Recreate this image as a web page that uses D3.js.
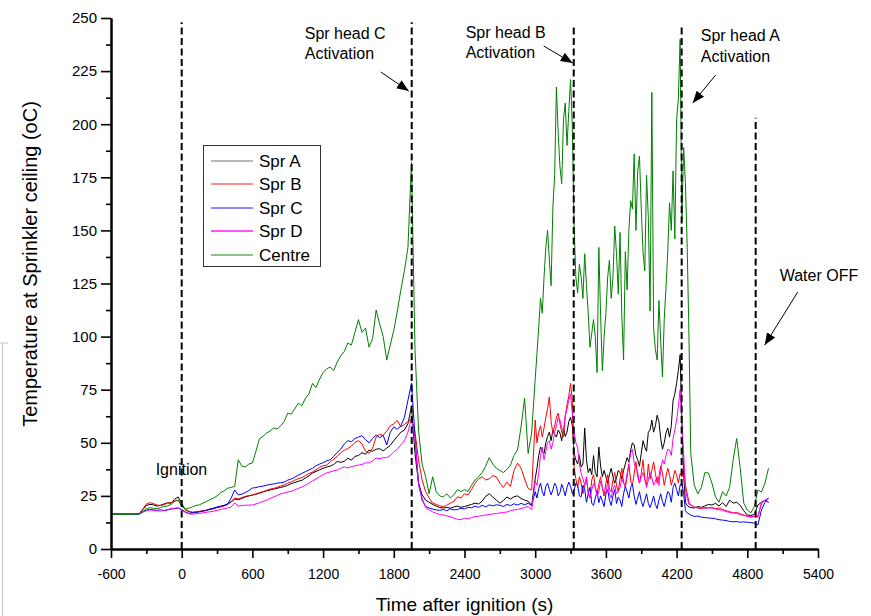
<!DOCTYPE html>
<html><head><meta charset="utf-8">
<script src="https://cdn.jsdelivr.net/npm/d3@7"></script>
<style>
html,body{margin:0;padding:0;background:#fff;}
svg{display:block;font-family:"Liberation Sans",Arial,sans-serif;}
</style></head>
<body><svg id="chart" width="871" height="616"></svg>
<script>
// sampling grid (s after ignition): 30 s, 15 s in the sprinkler-activation window
const times = [...d3.range(-600, 3000, 30), ...d3.range(3000, 4320, 15), ...d3.range(4320, 4981, 30)];

const seriesNames = ["Spr A","Spr B","Spr C","Spr D","Centre"];
const seriesColors = ["#000000","#ff0000","#0000ff","#ff00ff","#008000"];

const sprA = [16.5,16.5,16.5,16.5,16.5,16.5,16.5,16.5,16.6,18.5,
20.5,21.0,20.8,20.2,20.6,21.2,21.8,21.5,23.5,24.5,
21.5,18.5,17.6,17.2,17.4,17.6,17.9,18.2,18.6,19.0,
19.5,19.8,20.3,21.0,22.2,23.5,23.2,23.8,24.5,25.0,
25.4,25.8,26.2,26.9,27.3,27.8,28.2,28.6,29.0,29.4,
30.0,30.8,31.3,31.9,32.3,33.5,34.4,35.8,36.5,37.3,
38.0,38.6,39.0,39.8,41.2,40.8,41.3,42.8,41.8,43.6,
44.0,45.4,44.6,46.6,46.0,47.0,47.2,46.2,47.5,48.8,
51.0,53.0,55.0,56.0,59.0,67.0,45.0,31.0,25.5,23.0,
22.0,21.0,20.2,19.5,19.3,19.6,19.2,19.8,20.2,19.6,
20.0,20.5,21.0,21.6,21.2,22.5,24.8,26.0,24.5,23.0,
21.6,22.8,24.5,23.5,24.6,25.0,23.8,23.0,22.5,20.5,
33,38,44,48,46,45,50,53,55,51,
56,54,52.7,56,54.6,51,57,53,55,60,
62,58,45,42,40,44,38.6,40,57,42,
36,38,35,44,36,34,48,39,34,37,
34,31,35,38,34,31,33.5,37,36,33,
37,40,43,41,46.6,50,49,44,42,39,
45,51,48,46,55,56,60.7,55,58,63,
60,52,47,50,54.6,57,52.7,58,70,73,
78,84,91.5,60,35,22,20.5,19.8,
19.5,19.3,20.0,19.6,20.3,21.0,
20.7,21.5,20.3,21.8,20.0,23.0,21.6,22.0,20.5,18.0,
16.0,15.8,16.2,20.7,22.0,23.0,22.0];

const sprB = [16.5,16.5,16.5,16.5,16.5,16.5,16.5,16.5,16.6,18.8,
21.2,21.8,21.4,20.7,20.5,20.9,21.6,21.9,22.6,23.0,
21.0,18.6,17.8,17.3,17.5,17.7,18.0,18.3,18.8,19.2,
19.6,20.0,20.4,21.2,22.4,24.0,23.6,24.2,24.8,25.1,
25.4,25.9,26.6,27.0,27.6,28.2,28.5,29.1,29.6,30.2,
31.0,31.6,32.4,33.2,33.5,34.6,35.5,36.2,37.3,38.5,
39.2,39.5,41.0,42.3,43.6,45.4,46.5,47.3,48.4,50.2,
51.0,49.5,46.0,45.0,47.5,52.7,54.0,53.5,55.5,58.0,
59.0,60.5,57.5,58.6,60.0,61.0,55.0,42.0,32.5,27.0,
24.0,21.6,21.0,20.3,20.0,20.6,21.6,22.4,24.6,24.0,
26.0,25.5,28.0,31.0,33.0,34.0,32.5,33.0,34.5,34.0,
31.0,29.0,31.5,29.5,37.0,40.4,38.0,33.0,28.5,27.8,
60.7,50,55,58,52.7,57,62,66,71.6,60,
54.6,58,62,64,59,55,52.7,62,68,72,
78,70,38.6,33,29,34,31,26,30,33,
27,24,32.5,35,29,26,30.5,34,29,25,
31,35,28,27,32.5,36,30,27,33,38,
31.5,29,34,40,32,30,35.5,41,34,31,
35.6,42,33,30,40,33,37,41,35.6,31,
34,39,36,30,34,38,35,30,33,37,
35,31,35.6,34,38.6,30,26,22,
20.7,19.8,19.3,19.0,19.5,19.3,
19.5,19.0,19.3,18.6,18.0,17.6,17.0,17.2,16.5,16.0,
15.3,15.0,15.3,15.0,21.6,23.0,22.0];

const sprC = [16.5,16.5,16.5,16.5,16.5,16.5,16.5,16.5,16.5,17.5,
18.3,18.6,18.4,18.2,18.5,18.0,18.4,18.8,19.0,19.3,
18.6,17.5,16.8,16.9,17.2,17.5,17.8,18.2,18.8,19.2,
19.8,20.2,20.6,21.3,24.0,27.8,25.5,25.8,26.6,27.5,
28.7,28.9,29.4,29.6,30.0,30.4,30.6,31.0,31.2,31.5,
32.4,33.0,33.8,34.8,35.6,36.4,37.2,38.0,39.2,40.0,
40.6,41.5,42.0,43.6,45.5,47.0,49.5,51.0,50.5,52.0,
52.7,53.3,51.5,50.0,52.0,53.7,52.4,53.5,49.0,55.0,
57.5,56.3,58.0,62.0,70.0,78.0,53.0,31.0,23.0,20.0,
19.3,18.8,18.4,18.2,18.6,18.0,18.9,18.4,18.6,19.2,
18.8,19.6,19.4,20.2,19.6,20.6,19.8,20.8,20.3,20.8,
20.6,20.0,21.0,20.4,21.3,20.7,21.5,20.8,21.6,20.4,
27,24,28.5,31,27,25,29.5,31,28,25.5,
27.8,31,29.5,25,26.5,30.5,28,25,29,31.5,
29.5,26,27.5,31,30,25,24.6,30,28,22,
26,29,21.6,20.5,24,27,21.8,25,22.5,20,
26,28,23,20.5,25,28,21.4,24.5,23,20,
26,29.5,27,24,29,30.5,25,21,24,27,
22.5,20,23,26,21.5,19.5,22,25,21,19,
23,26,22.4,20,23.6,27,26,22,29,31,
28,25,30,31,26,18,17,16.5,
16.0,15.3,15.5,15.0,14.8,14.6,
14.5,14.2,13.8,13.6,13.4,13.0,12.8,12.9,12.6,12.8,
12.6,12.4,12.2,11.3,18.4,22.0,24.0];

const sprD = [16.5,16.5,16.5,16.5,16.5,16.5,16.5,16.5,16.5,17.3,
18.0,18.4,18.2,18.0,17.8,18.2,18.6,18.9,19.2,19.4,
18.3,17.2,16.6,16.4,16.6,16.8,17.0,17.3,17.5,17.8,
18.2,18.6,19.0,19.3,19.8,21.7,20.2,20.5,20.6,20.7,
20.7,21.2,21.8,22.4,23.0,23.8,24.5,25.2,25.9,26.4,
26.8,27.2,27.8,28.5,29.2,30.0,31.0,32.0,33.0,34.0,
35.0,35.8,36.3,36.8,37.2,38.0,38.6,38.2,38.8,39.2,
39.5,39.8,40.6,40.5,41.5,42.8,42.5,43.0,43.0,44.0,
45.7,47.0,49.0,51.0,55.0,61.6,52.0,30.0,24.0,19.5,
18.4,17.5,16.8,16.2,16.0,15.6,15.2,14.5,14.0,13.8,
14.5,14.2,14.8,15.3,15.4,15.8,16.0,16.2,16.5,16.7,
17.0,17.2,17.4,18.0,18.4,18.6,19.0,19.5,20.0,18.5,
32,30,36,44,48,42,46,50,51,47,
50,55,58,62,60.7,57,56,63,66,70,
73,64,55,50,48,40,35.6,33,30,34,
26,24,28,31,29,25,27,32,29,25,
27,31,26,24,28,30,26,27,29,33,
31,30,35.6,40,45,47,40.4,38,36,31,
34,36,33,29,32.5,36,33.5,30,32,34,
30,37,42,40,44,47,46.6,44,52,56,
60.7,67,75,58,45,28,24,21,
20.7,19.8,19.3,19.5,19.2,19.4,
19.3,18.8,18.5,18.2,17.6,17.2,17.0,16.8,16.2,15.8,
15.5,15.3,15.3,15.5,21.6,23.0,24.0];

const centre = [16.3,16.3,16.3,16.3,16.3,16.3,16.3,16.3,16.4,17.5,
19.0,19.4,19.2,19.0,19.5,20.0,20.3,21.0,22.4,23.0,
20.0,18.8,19.2,19.8,20.5,20.8,21.6,22.4,23.2,24.0,
25.0,26.5,27.4,28.6,29.0,29.5,42.0,39.0,38.6,40.0,
40.5,46.0,52.0,53.0,54.6,55.5,57.0,56.5,58.0,60.0,
64.0,63.5,66.0,68.7,67.5,71.0,73.0,78.0,76.0,80.0,
83.0,84.8,85.7,84.0,88.0,91.0,93.0,97.0,96.0,102.0,
108.0,102.0,104.0,95.0,99.0,112.5,106.0,100.0,89.0,96.0,
103.0,112.0,122.0,131.0,142.0,182.0,94.0,56.0,40.0,34.0,
26.0,34.0,27.0,25.0,24.5,26.0,24.0,25.5,28.0,27.0,
28.0,27.0,30.0,32.5,34.0,36.0,39.0,43.0,40.0,38.0,
37.0,36.0,37.5,39.5,44.0,46.6,57.5,71.0,45.0,54.6,
80,92,104.6,118,111,128,142,150,136,124,
161,176,217.5,196,180,172,202,210,190,206,
221,199,152,128,120.5,134,128,118,139,124,
111,95,101.6,108,100,83,142,110,84,100,
111,128,136,118,128,152,139,120,149,110,
89,140,122,150,164,160,186,150,178,185,
160,140,131,176,156,112,215,104,94,89,
117,98,81,108,123,140,163,150,178,146,
202,212,240,155,189,172,142,100,
45.0,30.0,26.0,29.0,36.0,35.8,
31.0,24.6,22.0,27.0,25.0,29.0,42.0,52.0,38.0,21.6,
18.4,17.0,20.0,27.8,26.8,31.0,38.0];

const xMajorTicks = [-600,0,600,1200,1800,2400,3000,3600,4200,4800,5400];
const xMinorTicks = [-300,300,900,1500,2100,2700,3300,3900,4500,5100];
const yMajorTicks = [0,25,50,75,100,125,150,175,200,225,250];
const yMinorTicks = [12.5,37.5,62.5,87.5,112.5,137.5,162.5,187.5,212.5,237.5];

// event markers: time and top of dashed line (in °C units)
const markerTimes = [0, 1952, 3327, 4243, 4871];
const markerTops = [248, 248, 246.5, 247, 203];

// annotation texts (data coords of baseline-left)
const annTexts = [
  {lines:["Spr head C","Activation"], t:1044, v:[240.1,230.7]},
  {lines:["Spr head B","Activation"], t:2410, v:[240.6,231.2]},
  {lines:["Spr head A","Activation"], t:4405, v:[239.2,229.3]},
  {lines:["Water OFF"], t:5075, v:[126.2]},
  {lines:["Ignition"], t:-221, v:[34.8]}
];
const annArrows = [
  {t1:1689, v1:224.6, t2:1927, v2:215.6},
  {t1:3072, v1:236.8, t2:3318, v2:228.8},
  {t1:4532, v1:223.2, t2:4337, v2:210.0},
  {t1:5228, v1:121.0, t2:4948, v2:96.0}
];

const seriesData = [sprA, sprB, sprC, sprD, centre];

const svg = d3.select("#chart");
const x = d3.scaleLinear().domain([-600,5400]).range([111,818]);
const y = d3.scaleLinear().domain([0,250]).range([549,18]);

// left edge decoration (page remnant)
svg.append("path").attr("d","M0,343H8M2.5,343V616").attr("stroke","#c8c8c8").attr("fill","none").attr("stroke-width",1);

// series lines
const line = d3.line().x((d,i)=>x(times[i])).y(d=>y(d));
seriesData.forEach((arr,k)=>{
  svg.append("path").datum(arr).attr("d",line)
    .attr("fill","none").attr("stroke",seriesColors[k])
    .attr("stroke-width",1).attr("stroke-linejoin","round");
});

// dashed markers
markerTimes.forEach((t,i)=>{
  svg.append("line").attr("x1",x(t)).attr("x2",x(t))
    .attr("y1",y(0)).attr("y2",y(markerTops[i]))
    .attr("stroke","#000").attr("stroke-width",2).attr("stroke-dasharray","7,3.5");
});

// axes
const fmt = d => String(d);
const yAxisMinor = d3.axisLeft(y).tickValues(yMinorTicks).tickSize(5).tickFormat("").tickSizeOuter(0);
const yAxis = d3.axisLeft(y).tickValues(yMajorTicks).tickSize(10).tickPadding(4).tickSizeOuter(0).tickFormat(fmt);
const xAxisMinor = d3.axisBottom(x).tickValues(xMinorTicks).tickSize(5).tickFormat("").tickSizeOuter(0);
const xAxis = d3.axisBottom(x).tickValues(xMajorTicks).tickSize(9).tickPadding(11).tickSizeOuter(0).tickFormat(fmt);

const gy2 = svg.append("g").attr("transform","translate(111,0)").call(yAxisMinor);
const gy = svg.append("g").attr("transform","translate(111,0)").call(yAxis);
const gx2 = svg.append("g").attr("transform","translate(0,549)").call(xAxisMinor);
const gx = svg.append("g").attr("transform","translate(0,549)").call(xAxis);
[gy,gy2,gx,gx2].forEach(g=>{
  g.select(".domain").attr("stroke","#000").attr("stroke-width",2);
  g.selectAll(".tick line").attr("stroke","#000").attr("stroke-width",1.6);
});
gy.selectAll(".tick text").attr("font-size",15).attr("font-family","'Liberation Sans',Arial,sans-serif").attr("fill","#000");
gx.selectAll(".tick text").attr("font-size",14).attr("font-family","'Liberation Sans Narrow','Arial Narrow',sans-serif").attr("fill","#000");

// axis titles
svg.append("text").attr("x",464.5).attr("y",611).attr("text-anchor","middle")
  .attr("font-size",19).text("Time after ignition (s)");
svg.append("text").attr("transform","translate(37,264) rotate(-90)").attr("text-anchor","middle")
  .attr("font-size",20).text("Temperature at Sprinkler ceiling (oC)");

// annotations
annTexts.forEach(a=>{
  a.lines.forEach((s,i)=>{
    svg.append("text").attr("x",x(a.t)).attr("y",y(a.v[i]))
      .attr("font-size",16).attr("fill","#000").text(s);
  });
});
svg.append("defs").append("marker").attr("id","ah")
  .attr("viewBox","0 0 10 10").attr("refX",10).attr("refY",5)
  .attr("markerWidth",12).attr("markerHeight",12).attr("markerUnits","userSpaceOnUse")
  .attr("orient","auto").append("path").attr("d","M0,1L10,5L0,9Z").attr("fill","#000");
annArrows.forEach(a=>{
  svg.append("line").attr("x1",x(a.t1)).attr("y1",y(a.v1)).attr("x2",x(a.t2)).attr("y2",y(a.v2))
    .attr("stroke","#000").attr("stroke-width",1).attr("marker-end","url(#ah)");
});

// legend
const lg = svg.append("g");
lg.append("rect").attr("x",203.5).attr("y",145.5).attr("width",117).attr("height",121)
  .attr("fill","#fff").attr("stroke","#333").attr("stroke-width",1);
const rowY = [161,184,208,231,255];
seriesNames.forEach((n,i)=>{
  lg.append("line").attr("x1",211).attr("x2",253).attr("y1",rowY[i]).attr("y2",rowY[i])
    .attr("stroke",seriesColors[i]).attr("stroke-width", i===3?1.6:1.2).attr("opacity", i===0?0.55:0.9);
  lg.append("text").attr("x",259).attr("y",rowY[i]+6).attr("font-size",17).attr("fill","#000").text(n);
});
</script></body></html>
